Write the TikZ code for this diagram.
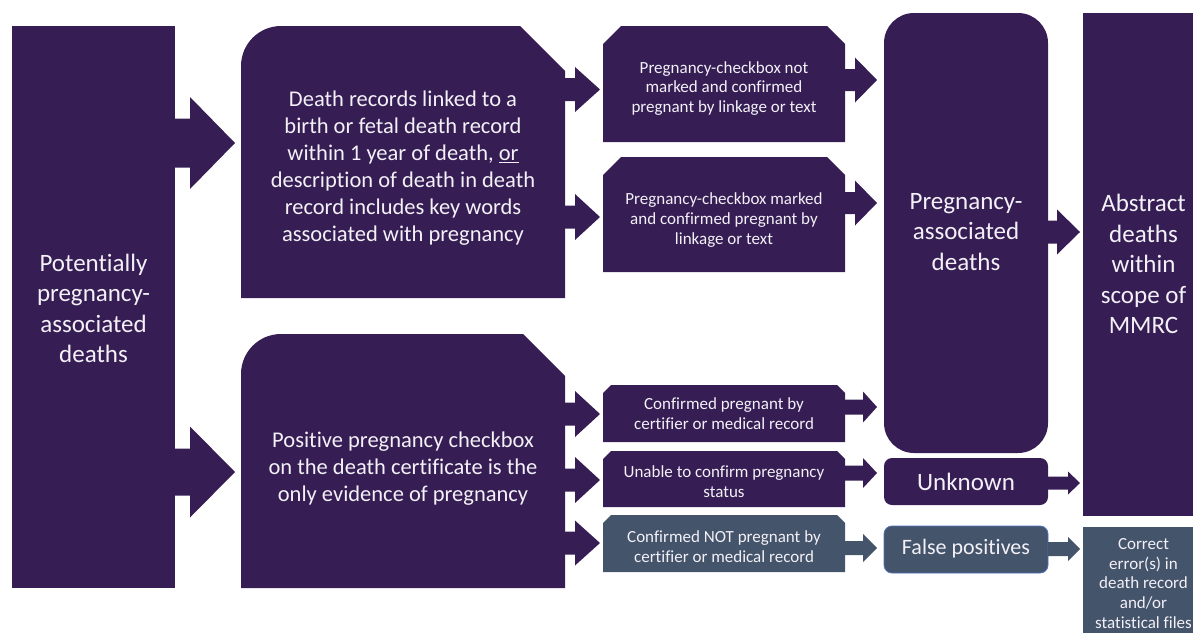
\documentclass[tikz,border=0pt]{standalone}
\usepackage{fontspec}
\setmainfont{Carlito}[Ligatures=NoCommon]
\usetikzlibrary{calc}

\definecolor{mmpurple}{RGB}{54,30,84}
\definecolor{mmslate}{RGB}{68,84,106}
\definecolor{mmtext}{RGB}{243,240,247}
\definecolor{mmedge}{RGB}{79,113,190}

\tikzset{
  frame/.style={rectangle, inner sep=0pt, outer sep=0pt},
  lbl/.style={text=mmtext, align=center, inner sep=0pt},
  fbig/.style={font=\fontsize{25}{30.5}\selectfont},
  fbox/.style={font=\fontsize{22}{27}\selectfont},
  fmid/.style={font=\fontsize{22.5}{27}\selectfont},
  fsmall/.style={font=\fontsize{17}{19.8}\selectfont},
  purplefill/.style={fill=mmpurple},
  slatefill/.style={fill=mmslate},
}

% block arrow: #1 style, #2 from node, #3 to node, #4 y, #5 head length,
% #6 gap before target, #7 shaft half width, #8 head half width
\newcommand\blockarr[8]{%
  \fill[#1] let \p1=(#2.east), \p2=(#3.west), \p3=(0,#4) in
    (\x1,{\y3+#7pt}) -- ({\x2-#6pt-#5pt},{\y3+#7pt}) -- ({\x2-#6pt-#5pt},{\y3+#8pt})
    -- ({\x2-#6pt},\y3) -- ({\x2-#6pt-#5pt},{\y3-#8pt}) -- ({\x2-#6pt-#5pt},{\y3-#7pt})
    -- (\x1,{\y3-#7pt}) -- cycle;}

% box with both top corners cut off: #1 style, #2 node, #3 cut size
\newcommand\snipbox[3]{%
  \fill[#1] (#2.south west) -- ($(#2.north west)+(0,#3)$) -- ($(#2.north west)+(#3,0)$)
    -- ($(#2.north east)+(-#3,0)$) -- ($(#2.north east)+(0,#3)$) -- (#2.south east) -- cycle;}

% box with rounded top-left and cut top-right corner: #1 node, #2 radius, #3 cut
\newcommand\tabbox[3]{%
  \fill[purplefill] (#1.south west) -- ($(#1.north west)+(0,#2)$)
    .. controls ($(#1.north west)+(0,0.448*#2)$) and ($(#1.north west)+(0.448*#2,0)$)
    .. ($(#1.north west)+(#2,0)$) -- ($(#1.north east)+(-#3,0)$)
    -- ($(#1.north east)+(0,#3)$) -- (#1.south east) -- cycle;}

\begin{document}
\begin{tikzpicture}[x=1pt,y=-1pt]
\useasboundingbox (0,0) rectangle (1193,632);
\clip (0,0) rectangle (1193,632);

% box outlines (anchors only)
\node[frame, minimum width=163pt, minimum height=562pt] (L)   at (93.5,307)   {};
\node[frame, minimum width=324pt, minimum height=272pt] (U)   at (403,162)    {};
\node[frame, minimum width=324pt, minimum height=254pt] (Lo)  at (403,461)    {};
\node[frame, minimum width=242pt, minimum height=116pt] (A)   at (724,84)     {};
\node[frame, minimum width=242pt, minimum height=115pt] (B)   at (724,214.5)  {};
\node[frame, minimum width=242pt, minimum height=57pt]  (C)   at (724,413.5)  {};
\node[frame, minimum width=242pt, minimum height=56pt]  (D)   at (724,479)    {};
\node[frame, minimum width=242pt, minimum height=57pt]  (E)   at (724,543.5)  {};
\node[frame, minimum width=164pt, minimum height=440pt] (PA)  at (966,233)    {};
\node[frame, minimum width=164pt, minimum height=47pt]  (Unk) at (966,481.5)  {};
\node[frame, minimum width=164pt, minimum height=47pt]  (FP)  at (966,549.5)  {};
\node[frame, minimum width=116pt, minimum height=503pt] (Abs) at (1141,264.5) {};
\node[frame, minimum width=116pt, minimum height=113pt] (Cor) at (1141,583.5) {};

% box fills
\fill[purplefill] (L.south west) rectangle (L.north east);
\tabbox{U}{40}{45}
\tabbox{Lo}{40}{42}
\snipbox{purplefill}{A}{18}
\snipbox{purplefill}{B}{18}
\snipbox{purplefill}{C}{8}
\snipbox{purplefill}{D}{8}
\snipbox{slatefill}{E}{8}
\fill[purplefill, rounded corners=30pt] (PA.south west) rectangle (PA.north east);
\fill[purplefill, rounded corners=8pt] (Unk.south west) rectangle (Unk.north east);
\draw[fill=mmslate, draw=mmedge, line width=0.8pt, rounded corners=8pt] (FP.south west) rectangle (FP.north east);
\fill[purplefill] (Abs.south west) rectangle (Abs.north east);
\fill[slatefill] (Cor.south west) rectangle (Cor.north east);

% block arrows
\blockarr{purplefill}{L}{U}{143}{45}{6}{24.5}{46}
\blockarr{purplefill}{L}{Lo}{472}{45}{6}{23.5}{45.5}
\blockarr{purplefill}{U}{A}{89.5}{25}{3}{11.5}{22.5}
\blockarr{purplefill}{U}{B}{217}{25}{3}{11.5}{23}
\blockarr{purplefill}{A}{PA}{80}{22}{7}{11}{22.5}
\blockarr{purplefill}{B}{PA}{203}{22}{7}{11}{22.5}
\blockarr{purplefill}{PA}{Abs}{232}{23}{3}{11.5}{22.5}
\blockarr{purplefill}{Lo}{C}{414}{25}{3}{11.5}{23}
\blockarr{purplefill}{Lo}{D}{480}{25}{3}{11.5}{23}
\blockarr{purplefill}{Lo}{E}{543}{25}{3}{11.5}{22.5}
\blockarr{purplefill}{C}{PA}{407}{14}{7}{7.5}{15.5}
\blockarr{purplefill}{D}{Unk}{473}{14}{7}{7.5}{15}
\blockarr{slatefill}{E}{FP}{548}{14}{7}{7}{14}
\blockarr{purplefill}{Unk}{Abs}{483}{12}{3}{6.5}{11.5}
\blockarr{slatefill}{FP}{Cor}{549}{12}{3}{7}{12}

% texts
\node[lbl, fbig] (Lt) at (93.5,308.5) {Potentially\\pregnancy-\\associated\\deaths};
\node[lbl, fmid] (Ut) at (403,168) {Death records linked to a\\birth or fetal death record\\within 1 year of death, \underline{or}\\description of death in death\\record includes key words\\associated with pregnancy};
\node[lbl, fmid] (Lot) at (403,469) {Positive pregnancy checkbox\\on the death certificate is the\\only evidence of pregnancy};
\node[lbl, fsmall] (At) at (724,88.5) {Pregnancy-checkbox not\\marked and confirmed\\pregnant by linkage or text};
\node[lbl, fsmall] (Bt) at (724,220) {Pregnancy-checkbox marked\\and confirmed pregnant by\\linkage or text};
\node[lbl, fsmall] (Ct) at (724,414) {Confirmed pregnant by\\certifier or medical record};
\node[lbl, fsmall] (Dt) at (724,482) {Unable to confirm pregnancy\\status};
\node[lbl, fsmall] (Et) at (724,547) {Confirmed NOT pregnant by\\certifier or medical record};
\node[lbl, fbig] (PAt) at (966,232) {Pregnancy-\\associated\\deaths};
\node[lbl, fbig] (Unkt) at (966,482) {Unknown};
\node[lbl, fbox] (FPt) at (966,549) {False positives};
\node[lbl, fbig] (Abst) at (1143.5,264) {Abstract\\deaths\\within\\scope of\\MMRC};
\node[lbl, fsmall] (Cort) at (1143.5,583.5) {Correct\\error(s) in\\death record\\and/or\\statistical files};
\end{tikzpicture}
\end{document}
